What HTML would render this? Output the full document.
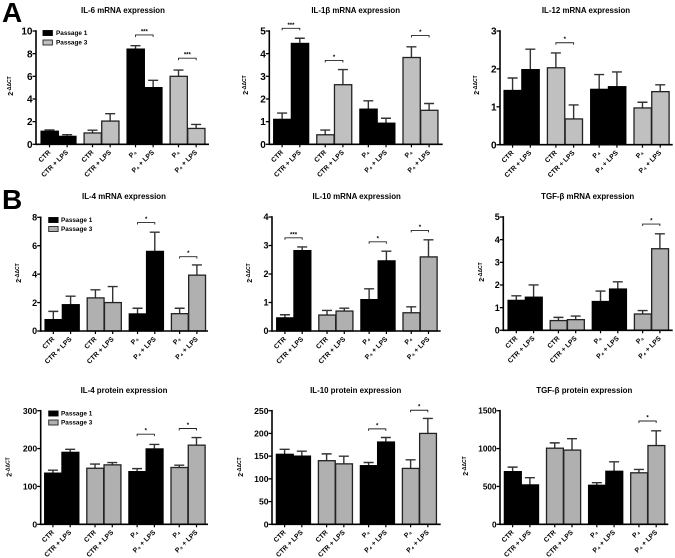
<!DOCTYPE html>
<html lang="en">
<head>
<meta charset="utf-8">
<title>Cytokine expression charts</title>
<style>
html,body{margin:0;padding:0;background:#fff;width:675px;height:558px;overflow:hidden}
svg{display:block;filter:blur(0.35px)}
text{font-family:"Liberation Sans","DejaVu Sans",sans-serif;font-weight:bold;fill:#000}
</style>
</head>
<body>
<svg id="figure" xmlns="http://www.w3.org/2000/svg" width="675" height="558" viewBox="0 0 675 558">
  <text x="2" y="22" font-size="28">A</text>
  <text x="2" y="209" font-size="28">B</text>
</svg>
<script>
const categories = ['CTR', 'CTR + LPS', 'CTR', 'CTR + LPS', 'P₄', 'P₄ + LPS', 'P₄', 'P₄ + LPS'];
const legendLabels = ['Passage 1', 'Passage 3'];

const il6MrnaMeans = [1.15, 0.7, 1.0, 2.05, 8.4, 5.0, 6.0, 1.4];
const il6MrnaTops = [1.27, 0.85, 1.25, 2.7, 8.7, 5.65, 6.55, 1.75];
const il6MrnaTicks = [0, 2, 4, 6, 8, 10];
const il6MrnaSig = [[4, 5, 9.65, '***'], [6, 7, 7.6, '***']];

const il1bMrnaMeans = [1.1, 4.45, 0.42, 2.63, 1.55, 0.93, 3.83, 1.5];
const il1bMrnaTops = [1.38, 4.68, 0.63, 3.3, 1.92, 1.15, 4.3, 1.8];
const il1bMrnaTicks = [0, 1, 2, 3, 4, 5];
const il1bMrnaSig = [[0, 1, 5.12, '***'], [2, 3, 3.7, '*'], [6, 7, 4.8, '*']];

const il12MrnaMeans = [1.43, 1.98, 2.03, 0.68, 1.46, 1.53, 0.97, 1.4];
const il12MrnaTops = [1.76, 2.52, 2.42, 1.05, 1.85, 1.92, 1.12, 1.58];
const il12MrnaTicks = [0, 1, 2, 3];
const il12MrnaSig = [[2, 3, 2.69, '*']];

const il4MrnaMeans = [0.8, 1.85, 2.33, 2.0, 1.2, 5.6, 1.22, 3.93];
const il4MrnaTops = [1.38, 2.45, 2.9, 3.13, 1.6, 6.95, 1.6, 4.65];
const il4MrnaTicks = [0, 2, 4, 6, 8];
const il4MrnaSig = [[4, 5, 7.63, '*'], [6, 7, 5.23, '*']];

const il10MrnaMeans = [0.46, 2.82, 0.56, 0.7, 1.1, 2.46, 0.64, 2.6];
const il10MrnaTops = [0.57, 2.95, 0.72, 0.8, 1.48, 2.8, 0.85, 3.2];
const il10MrnaTicks = [0, 1, 2, 3, 4];
const il10MrnaSig = [[0, 1, 3.27, '***'], [4, 5, 3.13, '*'], [6, 7, 3.53, '*']];

const tgfbMrnaMeans = [1.32, 1.46, 0.43, 0.47, 1.27, 1.82, 0.72, 3.6];
const tgfbMrnaTops = [1.52, 2.0, 0.57, 0.63, 1.73, 2.14, 0.87, 4.26];
const tgfbMrnaTicks = [0, 1, 2, 3, 4, 5];
const tgfbMrnaSig = [[6, 7, 4.69, '*']];

const il4ProteinMeans = [135, 190, 148, 157, 139, 199, 150, 209];
const il4ProteinTops = [143, 198, 159, 163, 147, 211, 156, 229];
const il4ProteinTicks = [0, 100, 200, 300];
const il4ProteinSig = [[4, 5, 238, '*'], [6, 7, 253, '*']];

const il10ProteinMeans = [154, 150, 140, 133, 129, 181, 123, 200];
const il10ProteinTops = [165, 161, 155, 150, 136, 191, 142, 233];
const il10ProteinTicks = [0, 50, 100, 150, 200, 250];
const il10ProteinSig = [[4, 5, 210, '*'], [6, 7, 251, '*']];

const tgfbProteinMeans = [695, 520, 1005, 980, 515, 700, 680, 1040];
const tgfbProteinTops = [755, 615, 1075, 1130, 550, 825, 725, 1235];
const tgfbProteinTicks = [0, 500, 1000, 1500];
const tgfbProteinSig = [[6, 7, 1364, '*']];

const charts = [
  {id:'il-6-mrna', title:'IL-6 mRNA expression', means:il6MrnaMeans, tops:il6MrnaTops, ticks:il6MrnaTicks, sig:il6MrnaSig,
   ax:36, end:209, yT:31, yB:144.3, start:40.7, step:43, tx:123, ty:13, lx:11, ly:86, fs:10, gray:'#c0c0c0', legend:[43, 56, 33, 42.5]},
  {id:'il-1b-mrna', title:'IL-1β mRNA expression', means:il1bMrnaMeans, tops:il1bMrnaTops, ticks:il1bMrnaTicks, sig:il1bMrnaSig,
   ax:269.3, end:442.7, yT:31, yB:144.3, start:273.3, step:43.1, tx:355.7, ty:13, lx:246, ly:85, fs:10, gray:'#c0c0c0'},
  {id:'il-12-mrna', title:'IL-12 mRNA expression', means:il12MrnaMeans, tops:il12MrnaTops, ticks:il12MrnaTicks, sig:il12MrnaSig,
   ax:500, end:672.7, yT:31, yB:144.7, start:503.7, step:43.3, tx:586, ty:13, lx:477, ly:85, fs:10, gray:'#c0c0c0'},
  {id:'il-4-mrna', title:'IL-4 mRNA expression', means:il4MrnaMeans, tops:il4MrnaTops, ticks:il4MrnaTicks, sig:il4MrnaSig,
   ax:40.7, end:208, yT:217.3, yB:331, start:44.7, step:42.1, tx:124, ty:199, lx:19, ly:273, fs:9, gray:'#b0b0b0', legend:[48.7, 61, 220, 229]},
  {id:'il-10-mrna', title:'IL-10 mRNA expression', means:il10MrnaMeans, tops:il10MrnaTops, ticks:il10MrnaTicks, sig:il10MrnaSig,
   ax:272, end:440.7, yT:217, yB:331, start:276.3, step:42.1, tx:356.7, ty:199, lx:250, ly:273, fs:9, gray:'#b0b0b0'},
  {id:'tgf-b-mrna', title:'TGF-β mRNA expression', means:tgfbMrnaMeans, tops:tgfbMrnaTops, ticks:tgfbMrnaTicks, sig:tgfbMrnaSig,
   ax:503.3, end:672.7, yT:217, yB:330.3, start:507.7, step:42.1, tx:587.7, ty:199, lx:482, ly:272, fs:9, gray:'#b0b0b0'},
  {id:'il-4-protein', title:'IL-4 protein expression', means:il4ProteinMeans, tops:il4ProteinTops, ticks:il4ProteinTicks, sig:il4ProteinSig,
   ax:40.7, end:208, yT:410.7, yB:524.3, start:44.3, step:42.1, tx:124, ty:393, lx:9.5, ly:467, fs:8.6, gray:'#b0b0b0', legend:[48.7, 61, 413.5, 422.5]},
  {id:'il-10-protein', title:'IL-10 protein expression', means:il10ProteinMeans, tops:il10ProteinTops, ticks:il10ProteinTicks, sig:il10ProteinSig,
   ax:272, end:440.7, yT:410.7, yB:524.3, start:276, step:42, tx:355.7, ty:393, lx:241, ly:467, fs:8.6, gray:'#b0b0b0'},
  {id:'tgf-b-protein', title:'TGF-β protein expression', means:tgfbProteinMeans, tops:tgfbProteinTops, ticks:tgfbProteinTicks, sig:tgfbProteinSig,
   ax:500, end:668.3, yT:410.7, yB:524.3, start:504, step:42.1, tx:584.3, ty:393, lx:466, ly:466, fs:8.2, gray:'#b0b0b0'}
];

const NS = 'http://www.w3.org/2000/svg';
const root = document.getElementById('figure');

function make(parent, tag, props, txt) {
  const el = document.createElementNS(NS, tag);
  for (const k in props) el.setAttribute(k, props[k]);
  if (txt !== undefined) el.textContent = txt;
  parent.appendChild(el);
  return el;
}

charts.forEach(function (c) {
  const g = make(root, 'g', {});
  
  

  const maxTick = c.ticks[c.ticks.length - 1];
  const yScale = function (v) { return c.yB - (v / maxTick) * (c.yB - c.yT); };
  const barW = c.step * 0.41;
  const barLeft = function (i) { return c.start + Math.floor(i / 2) * c.step + (i % 2) * barW; };
  const xScale = function (i) { return barLeft(i) + barW / 2; };

  const title = make(g, 'text', {x: c.tx, y: c.ty, 'text-anchor': 'middle', 'font-size': 7.9}, c.title);
  
  

  const yTitle = make(g, 'text', {transform: 'translate(' + (c.lx + 2) + ',' + c.ly + ') rotate(-90)', 'text-anchor': 'middle', 'font-size': 7});
  
  
  make(yTitle, 'tspan', {}, '2');
  make(yTitle, 'tspan', {'font-size': 5, dy: -2}, '-ΔΔCT');

  c.means.forEach(function (m, i) {
    const isBlack = Math.floor(i / 2) % 2 === 0;
    const cx = xScale(i);

    const err = make(g, 'path', {
      d: 'M' + cx + ' ' + yScale(m) + 'V' + yScale(c.tops[i]) + 'M' + (cx - 5) + ' ' + yScale(c.tops[i]) + 'H' + (cx + 5),
      fill: 'none', stroke: '#333', 'stroke-width': 1.4
    });
    
    

    const bar = make(g, 'rect', {
      x: barLeft(i) + 0.4, y: yScale(m), width: barW - 0.4, height: c.yB - yScale(m),
      fill: isBlack ? '#000' : c.gray, stroke: isBlack ? '#000' : '#222', 'stroke-width': 1.3
    });
    
    

    const xTick = make(g, 'line', {x1: cx, x2: cx, y1: c.yB, y2: c.yB + 3, stroke: '#000', 'stroke-width': 1.2});
    
    

    const ex = cx + 1.5, ey = c.yB + 8.5;
    const label = make(g, 'text', {transform: 'translate(' + ex + ',' + ey + ') rotate(-45)', 'text-anchor': 'end', 'font-size': 6.8}, categories[i]);
    
    
  });

  const yAxis = make(g, 'line', {x1: c.ax, x2: c.ax, y1: c.yT - 0.8, y2: c.yB + 0.8, stroke: '#000', 'stroke-width': 1.6});
  
  

  const xAxis = make(g, 'line', {x1: c.ax, x2: c.end, y1: c.yB, y2: c.yB, stroke: '#000', 'stroke-width': 1.6});
  
  

  c.ticks.forEach(function (t) {
    const y = yScale(t);
    const tick = make(g, 'line', {x1: c.ax - 3.5, x2: c.ax, y1: y, y2: y, stroke: '#000', 'stroke-width': 1.3});
    
    

    const tickLabel = make(g, 'text', {x: c.ax - 3.5, y: y + c.fs * 0.36, 'text-anchor': 'end', 'font-size': c.fs}, String(t));
    
    
  });

  c.sig.forEach(function (s) {
    const y = yScale(s[2]);
    const a = xScale(s[0]), b = xScale(s[1]);
    const bracket = make(g, 'path', {d: 'M' + a + ' ' + (y + 2) + 'V' + y + 'H' + b + 'V' + (y + 2), fill: 'none', stroke: '#222', 'stroke-width': 0.9});
    
    

    const star = make(g, 'text', {x: (a + b) / 2, y: y - 1.5, 'text-anchor': 'middle', 'font-size': 6}, s[3]);
    
    
  });

  if (c.legend) {
    const swatchX = c.legend[0], textX = c.legend[1];
    legendLabels.forEach(function (name, i) {
      const cy = c.legend[2 + i];
      const swatch = make(g, 'rect', {x: swatchX, y: cy - 2.5, width: 9.4, height: 5, fill: i === 0 ? '#000' : c.gray, stroke: i === 0 ? '#000' : '#222', 'stroke-width': 0.9});
      
      

      const entry = make(g, 'text', {x: textX, y: cy + 2.2, 'font-size': 6.4}, name);
      
      
    });
  }
});
</script>
</body>
</html>
